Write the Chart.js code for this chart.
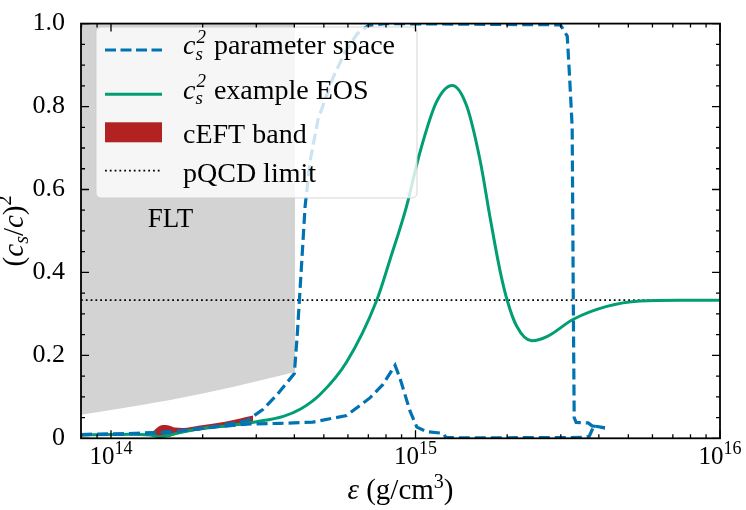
<!DOCTYPE html>
<html>
<head>
<meta charset="utf-8">
<script src="https://cdn.jsdelivr.net/npm/chart.js@4.4.1/dist/chart.umd.min.js"></script>
<style>
  html, body { margin: 0; padding: 0; background: #fff; }
</style>
</head>
<body>
<canvas id="c" width="746" height="510"></canvas>
<script>
// energy density in g/cm^3, c_s^2
const xMin = 7.97e13, xMax = 1e16;
const pqcd = 1 / 3;

// lower edge of the grey FLT region (filled up to the top)
const fltX   = [7.97e13, 1.0e14, 1.26e14, 1.58e14, 2.0e14, 2.51e14, 3.16e14, 4.02e14];
const fltLow = [0.057,   0.068,  0.080,   0.093,   0.108,  0.124,   0.141,   0.160];

// parameter space, upper boundary
const upperX = [7.97e13, 1.0e14, 1.25e14, 1.6e14, 2.16e14, 2.8e14, 3.16e14, 3.51e14, 4.0e14,
                4.09e14, 4.21e14, 4.34e14, 4.51e14, 4.79e14, 5.36e14, 5.86e14, 6.43e14, 6.98e14, 7.94e14,
                2.99e15, 3.15e15, 3.21e15, 3.27e15, 3.30e15, 3.32e15, 3.37e15, 3.69e15, 3.80e15, 4.19e15];
const upperY = [0.009, 0.010, 0.012, 0.016, 0.027, 0.043, 0.070, 0.105, 0.156,
                0.25, 0.40, 0.56, 0.67, 0.77, 0.87, 0.93, 0.975, 0.995, 1.0,
                0.997, 0.97, 0.865, 0.75, 0.30, 0.05, 0.038, 0.037, 0.030, 0.025];

// parameter space, lower boundary
const lowerX = [7.97e13, 1.0e14, 1.25e14, 1.6e14, 2.16e14, 2.8e14, 3.01e14, 3.59e14, 4.6e14,
                5.94e14, 7.1e14, 7.82e14, 8.57e14, 8.89e14, 9.59e14, 1.01e15, 1.09e15, 1.23e15,
                1.26e15, 1.4e15, 3.55e15, 3.72e15, 3.80e15, 3.85e15, 4.19e15];
const lowerY = [0.009, 0.010, 0.012, 0.016, 0.027, 0.034, 0.035, 0.036, 0.039,
                0.055, 0.098, 0.13, 0.176, 0.145, 0.066, 0.027, 0.016, 0.012,
                0.002, 0.001, 0.002, 0.005, 0.02, 0.03, 0.025];

// example EOS
const eosX = [7.97e13, 1.0e14, 1.15e14, 1.34e14, 1.45e14, 1.56e14, 1.91e14, 2.46e14, 3.01e14,
              3.68e14, 4.18e14, 4.85e14, 5.94e14, 7.46e14, 8.24e14, 9.35e14, 1.03e15, 1.17e15,
              1.32e15, 1.47e15, 1.63e15, 1.76e15, 1.90e15, 2.0e15, 2.15e15, 2.41e15, 2.70e15,
              3.30e15, 4.25e15, 5.46e15, 7.40e15, 1e16];
const eosY = [0.008, 0.009, 0.010, 0.008, 0.004, 0.008, 0.022, 0.031, 0.040,
              0.053, 0.070, 0.105, 0.184, 0.333, 0.43, 0.56, 0.685, 0.81,
              0.851, 0.803, 0.67, 0.53, 0.40, 0.333, 0.27, 0.235, 0.245,
              0.287, 0.318, 0.331, 0.333, 0.333];

// cEFT band
const ceftX  = [1.36e14, 1.42e14, 1.48e14, 1.55e14, 1.62e14, 1.72e14, 1.96e14, 2.37e14, 2.93e14];
const ceftLo = [0.011, 0.004, 0.002, 0.003, 0.008, 0.013, 0.019, 0.027, 0.035];
const ceftHi = [0.013, 0.026, 0.032, 0.031, 0.026, 0.025, 0.031, 0.040, 0.055];

const xDecades = [14, 15, 16];

const BLUE = '#0173b2', GREEN = '#029e73', RED = '#b22222', GREY = '#d3d3d3';
const SERIF = '"Liberation Serif", "Times New Roman", serif';

const pts = (xs, ys) => xs.map((v, i) => ({ x: v, y: ys[i] }));

function font(size, italic) {
  return (italic ? 'italic ' : '') + size + 'px ' + SERIF;
}

// draws pieces of text one after another; a piece with sup/sub stacks them
function drawRuns(ctx, parts, x, y, align) {
  const widthOf = p => {
    ctx.font = p.font;
    if (p.sup !== undefined || p.sub !== undefined) {
      return Math.max(ctx.measureText(p.sup || '').width, ctx.measureText(p.sub || '').width);
    }
    return ctx.measureText(p.t).width + (p.pad || 0);
  };
  const total = parts.reduce((s, p) => s + widthOf(p), 0);
  let cx = align === 'center' ? x - total / 2 : x;
  ctx.textAlign = 'left';
  ctx.textBaseline = 'alphabetic';
  for (const p of parts) {
    const w = widthOf(p);
    ctx.font = p.font;
    if (p.sup !== undefined || p.sub !== undefined) {
      if (p.sup) ctx.fillText(p.sup, cx + (p.supDx || 0), y + p.supDy);
      if (p.sub) ctx.fillText(p.sub, cx, y + p.subDy);
    } else {
      ctx.fillText(p.t, cx + (p.pad || 0), y + (p.dy || 0));
    }
    cx += w;
  }
  return cx;
}

function csSquared(size) {
  const s = Math.round(size * 0.68);
  return [
    { t: 'c', font: font(size, true) },
    { sup: '2', sub: 's', font: font(s, true), supDy: -size * 0.4, subDy: size * 0.2, supDx: 1 }
  ];
}

const overlay = {
  id: 'overlay',
  afterDatasetsDraw(chart) {
    const { ctx, chartArea: a, scales: { x, y } } = chart;
    ctx.save();
    ctx.fillStyle = '#000';

    // FLT label
    ctx.font = font(27);
    ctx.textAlign = 'center';
    ctx.textBaseline = 'alphabetic';
    ctx.fillText('FLT', 170.5, 227);

    // legend
    const lx = 96, ly = 27, lw = 321, lh = 171;
    ctx.beginPath();
    ctx.roundRect(lx, ly, lw, lh, 5);
    ctx.fillStyle = 'rgba(255,255,255,0.8)';
    ctx.fill();
    ctx.strokeStyle = 'rgba(204,204,204,0.8)';
    ctx.lineWidth = 1;
    ctx.stroke();

    const hx0 = 105, hx1 = 162, tx = 183, fs = 28;
    ctx.lineCap = 'butt';
    // dashed
    ctx.strokeStyle = BLUE; ctx.lineWidth = 3.2; ctx.setLineDash([11, 4.5]);
    ctx.beginPath(); ctx.moveTo(hx0, 50); ctx.lineTo(hx1, 50); ctx.stroke();
    // solid
    ctx.strokeStyle = GREEN; ctx.lineWidth = 3; ctx.setLineDash([]);
    ctx.beginPath(); ctx.moveTo(hx0, 94.3); ctx.lineTo(hx1, 94.3); ctx.stroke();
    // band
    ctx.fillStyle = RED;
    ctx.fillRect(hx0, 122.3, hx1 - hx0, 20);
    // dotted
    ctx.strokeStyle = '#000'; ctx.lineWidth = 1.8; ctx.setLineDash([1.8, 3]);
    ctx.beginPath(); ctx.moveTo(hx0, 170.7); ctx.lineTo(hx1, 170.7); ctx.stroke();
    ctx.setLineDash([]);

    ctx.fillStyle = '#000';
    drawRuns(ctx, csSquared(fs).concat([{ t: 'parameter space', font: font(fs), pad: 9 }]), tx, 54);
    drawRuns(ctx, csSquared(fs).concat([{ t: 'example EOS', font: font(fs), pad: 9 }]), tx, 98.5);
    drawRuns(ctx, [{ t: 'cEFT band', font: font(fs) }], tx, 142.5);
    drawRuns(ctx, [{ t: 'pQCD limit', font: font(fs) }], tx, 181.5);

    // frame
    ctx.strokeStyle = '#000';
    ctx.lineWidth = 1.8;
    ctx.strokeRect(a.left, a.top, a.right - a.left, a.bottom - a.top);

    // inward ticks on all four sides
    ctx.lineWidth = 1.3;
    ctx.beginPath();
    for (let i = 0; i <= 20; i++) {
      const py = y.getPixelForValue(i * 0.05);
      const len = i % 4 === 0 ? 8 : 4;
      ctx.moveTo(a.left, py); ctx.lineTo(a.left + len, py);
      ctx.moveTo(a.right, py); ctx.lineTo(a.right - len, py);
    }
    for (let e = 13; e <= 16; e++) {
      for (let m = 1; m <= 9; m++) {
        const v = m * Math.pow(10, e);
        if (v < xMin || v > xMax) continue;
        const px = x.getPixelForValue(v);
        const len = m === 1 ? 8 : 4;
        ctx.moveTo(px, a.bottom); ctx.lineTo(px, a.bottom - len);
        ctx.moveTo(px, a.top); ctx.lineTo(px, a.top + len);
      }
    }
    ctx.stroke();

    // x tick labels 10^n
    for (const e of xDecades) {
      const px = x.getPixelForValue(Math.pow(10, e));
      drawRuns(ctx, [
        { t: '10', font: font(25) },
        { t: String(e), font: font(18), dy: -10 }
      ], px, 464, 'center');
    }

    // x axis title
    drawRuns(ctx, [
      { t: 'ε', font: font(29, true) },
      { t: ' (g/cm', font: font(29) },
      { t: '3', font: font(20), dy: -11 },
      { t: ')', font: font(29) }
    ], (a.left + a.right) / 2, 499, 'center');

    // y axis title, rotated
    ctx.translate(23, (a.top + a.bottom) / 2);
    ctx.rotate(-Math.PI / 2);
    drawRuns(ctx, [
      { t: '(', font: font(29) },
      { t: 'c', font: font(29, true) },
      { t: 's', font: font(20, true), dy: 5 },
      { t: '/', font: font(29) },
      { t: 'c', font: font(29, true) },
      { t: ')', font: font(29) },
      { t: '2', font: font(20), dy: -12 }
    ], 0, 0, 'center');

    ctx.restore();
  }
};

new Chart(document.getElementById('c'), {
  type: 'line',
  data: {
    datasets: [
      { label: 'FLT', data: pts(fltX, fltLow), fill: 'end', backgroundColor: GREY,
        borderWidth: 0, pointRadius: 0, order: 10 },
      { label: 'pQCD limit', data: [{ x: xMin, y: pqcd }, { x: xMax, y: pqcd }], fill: false,
        borderColor: '#000', borderWidth: 1.8, borderDash: [1.8, 3], pointRadius: 0, order: 6 },
      { label: 'cEFT low', data: pts(ceftX, ceftLo), fill: false, borderWidth: 0,
        borderColor: 'rgba(0,0,0,0)', pointRadius: 0, order: 5, cubicInterpolationMode: 'monotone' },
      { label: 'cEFT band', data: pts(ceftX, ceftHi), fill: '-1', backgroundColor: RED,
        borderWidth: 0, borderColor: 'rgba(0,0,0,0)', pointRadius: 0, order: 5, cubicInterpolationMode: 'monotone' },
      { label: 'example EOS', data: pts(eosX, eosY), fill: false, borderColor: GREEN,
        borderWidth: 3, cubicInterpolationMode: 'monotone', pointRadius: 0, order: 3 },
      { label: 'parameter space', data: pts(upperX, upperY), fill: false, borderColor: BLUE,
        borderWidth: 3.2, borderDash: [11, 5], pointRadius: 0, order: 2 },
      { label: 'parameter space low', data: pts(lowerX, lowerY), fill: false, borderColor: BLUE,
        borderWidth: 3.2, borderDash: [11, 5], pointRadius: 0, order: 2 }
    ]
  },
  options: {
    responsive: false,
    animation: false,
    devicePixelRatio: 1,
    layout: { padding: { top: 12.7, right: 26, left: 0, bottom: 0 } },
    plugins: { legend: { display: false }, tooltip: { enabled: false } },
    scales: {
      x: {
        type: 'logarithmic', min: xMin, max: xMax,
        grid: { display: false }, border: { display: false },
        ticks: { display: false },
        afterFit(s) { s.height = 71.7; }
      },
      y: {
        min: 0, max: 1,
        grid: { display: false }, border: { display: false },
        ticks: {
          stepSize: 0.2, padding: 8, color: '#000',
          font: { family: SERIF, size: 26 },
          callback: v => v === 0 ? '0' : v.toFixed(1)
        },
        afterFit(s) { s.width = 81; }
      }
    }
  },
  plugins: [overlay]
});
</script>
</body>
</html>
